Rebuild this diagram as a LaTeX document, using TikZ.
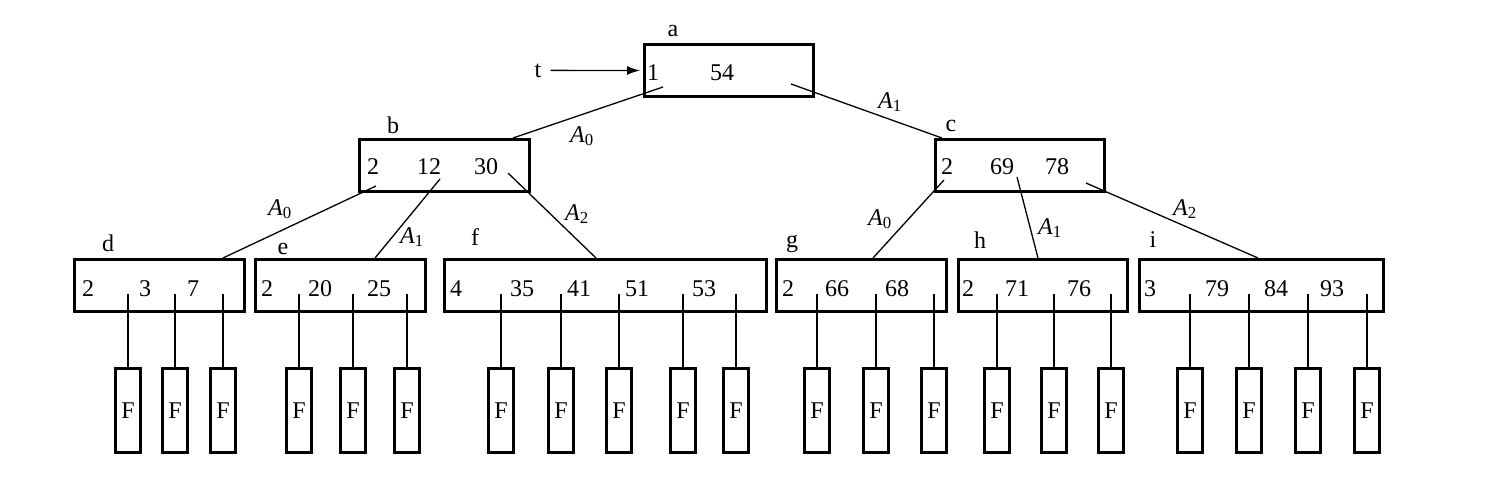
\documentclass[tikz,border=0pt]{standalone}
\usepackage{fontspec}
\setmainfont{Liberation Serif}
\usetikzlibrary{arrows.meta}
\newcommand{\Aptr}[1]{\textit{A}\textsubscript{#1}}

\begin{document}
\begin{tikzpicture}[x=1pt,y=-1pt,font=\fontsize{24}{28}\selectfont,
    keybox/.style={draw,line width=3pt,minimum height=52pt,inner sep=0pt},
    leaf/.style={draw,line width=3pt,minimum width=25pt,minimum height=84pt,inner sep=0pt},
    lbl/.style={inner sep=0pt,anchor=base},
    ptr/.style={line width=1.3pt}]
                \useasboundingbox (0,0) rectangle (1486,490);
                \node[keybox,minimum width=169pt] (a) at (729,70.5) {};
                \node[keybox,minimum width=170pt] (b) at (444.5,165.5) {};
                \node[keybox,minimum width=169pt] (c) at (1020,165.5) {};
                \foreach \n/\x/\w in {d/159.5/170,e/340.5/170,f/605.5/322,g/861.5/170,h/1043/169,i/1261.5/244}
                    \node[keybox,minimum width=\w pt] (\n) at (\x,285.5) {};
                \node[lbl] (la) at (673,36) {a};
                \node[lbl] (lb) at (393,133) {b};
                \node[lbl] (lc) at (951,131) {c};
                \node[lbl] (ld) at (108,251) {d};
                \node[lbl] (le) at (283,254) {e};
                \node[lbl] (lf) at (475,245) {f};
                \node[lbl] (lg) at (792,247) {g};
                \node[lbl] (lh) at (980,248) {h};
                \node[lbl] (li) at (1153,247) {i};
                \node[lbl] (t) at (538,77) {t};
                \draw[ptr,-{Latex[length=13pt,width=9pt]},shorten <=9pt,shorten >=3pt] (t.east) -- (a.west);
                \node[lbl] (a k1) at (653,80) {1};
                \node[lbl] (a k2) at (722,80) {54};
                \foreach \x/\k [count=\i] in {373/2,429/12,486/30}
                    \node[lbl] (b k\i) at (\x,174) {\k};
                \foreach \x/\k [count=\i] in {947/2,1002/69,1057/78}
                    \node[lbl] (c k\i) at (\x,174) {\k};
                \foreach \n/\list in {d/{88/2,145/3,193/7},e/{267/2,320/20,379/25},f/{456/4,522/35,579/41,637/51,704/53},g/{788/2,837/66,897/68},h/{968/2,1017/71,1079/76},i/{1150/3,1217/79,1276/84,1332/93}}
                    \foreach \x/\k [count=\i] in \list
                        \node[lbl] (\n k\i) at (\x,296) {\k};
                \coordinate (a p0) at (663,87);
                \coordinate (a p1) at (791,84);
                \coordinate (b p0) at (376,186);
                \coordinate (b p1) at (440,179);
                \coordinate (b p2) at (508,173);
                \coordinate (c p0) at (944,180);
                \coordinate (c p1) at (1017,177);
                \coordinate (c p2) at (1086,183);
                \draw[ptr] (a p0) -- ([xshift=68.5pt]b.north);
                \draw[ptr] (a p1) -- ([xshift=-78pt]c.north);
                \draw[ptr] (b p0) -- ([xshift=63.5pt]d.north);
                \draw[ptr] (b p1) -- ([xshift=34.5pt]e.north);
                \draw[ptr] (b p2) -- ([xshift=-9.5pt]f.north);
                \draw[ptr] (c p0) -- ([xshift=11.5pt]g.north);
                \draw[ptr] (c p1) -- ([xshift=-5pt]h.north);
                \draw[ptr] (c p2) -- ([xshift=-3.5pt]i.north);
                \node[lbl] (a A0) at (582,142) {\Aptr{0}};
                \node[lbl] (a A1) at (890,108) {\Aptr{1}};
                \node[lbl] (b A0) at (280,215) {\Aptr{0}};
                \node[lbl] (b A1) at (412,243) {\Aptr{1}};
                \node[lbl] (b A2) at (577,220) {\Aptr{2}};
                \node[lbl] (c A0) at (880,225) {\Aptr{0}};
                \node[lbl] (c A1) at (1050,234) {\Aptr{1}};
                \node[lbl] (c A2) at (1185,215) {\Aptr{2}};
                \foreach \n/\list in {d/{128,175,223},e/{299,353,407},f/{501,561,619,683,736},g/{817,876,934},h/{997,1054,1111},i/{1190,1249,1308,1367}}
                    \foreach \x [count=\i] in \list {
                        \node[leaf] (\n F\i) at (\x,410.5) {F};
                        \coordinate (\n p\i) at (\x,294);
                        \draw[ptr] (\n p\i) -- (\n F\i);
                    }
            \end{tikzpicture}
\end{document}
